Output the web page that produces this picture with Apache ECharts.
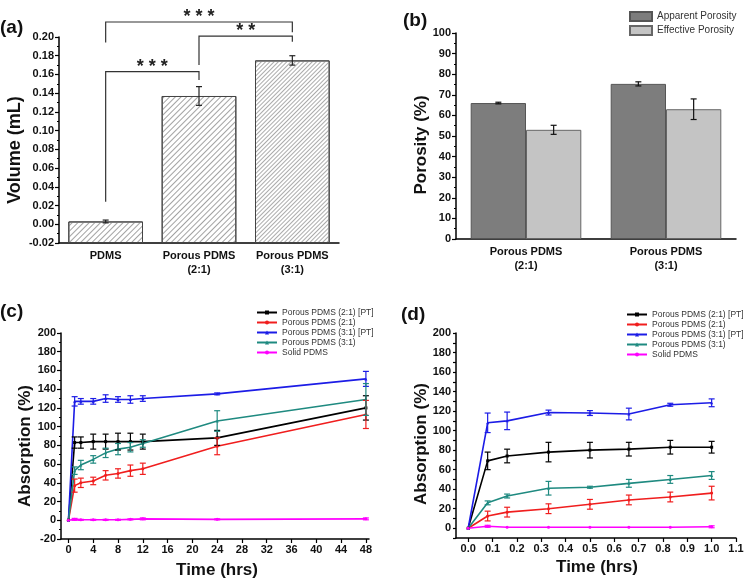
<!DOCTYPE html>
<html><head><meta charset="utf-8">
<script src="https://cdn.jsdelivr.net/npm/echarts@6/dist/echarts.min.js"></script>
<style>html,body{margin:0;padding:0;background:#fff}#c{width:746px;height:582px}</style>
</head><body><div id="c"></div>
<script>
const FONT = 'Liberation Sans, Arial, sans-serif';

// ---------- (a) ----------
const catsA = ['PDMS', 'Porous PDMS\n(2:1)', 'Porous PDMS\n(3:1)'];
const volumeA = [0.003, 0.137, 0.175];
const volumeErrA = [0.0015, 0.010, 0.005];
const sigFrom = [0, 1, 0];
const sigTo = [1, 2, 2];
const sigTop = [0.163, 0.201, 0.216];
const sigFromBase = [0.024, 0.170, 0.194];
const sigToBase = [0.154, 0.195, 0.205];
const sigText = ['* * *', '* *', '* * *'];

// ---------- (b) ----------
const catsB = ['Porous PDMS\n(2:1)', 'Porous PDMS\n(3:1)'];
const apparentB = [66, 75.3];
const apparentErrB = [0.4, 1.0];
const effectiveB = [53, 63];
const effectiveErrB = [2.2, 5.0];
const legendB = ['Apparent Porosity', 'Effective Porosity'];

// ---------- (c) & (d) ----------
const seriesNames = ['Porous PDMS (2:1) [PT]', 'Porous PDMS (2:1)', 'Porous PDMS (3:1) [PT]', 'Porous PDMS (3:1)', 'Solid PDMS'];
const seriesColors = ['#000000', '#f01e1e', '#1c1ce6', '#1f8a80', '#ff00ff'];
const seriesSymbols = ['rect', 'circle', 'triangle', 'triangle', 'circle'];

const timeC = [0, 1, 2, 4, 6, 8, 10, 12, 24, 48];
const c21pt = [0, 83, 83, 84, 84, 84, 84, 84, 88, 120];
const c21ptErr = [0, 6, 6, 8, 8, 9, 9, 8, 8, 13];
const c21 = [0, 37, 40, 42, 48, 50, 53, 55, 79, 113];
const c21Err = [0, 7, 5, 4, 5, 5, 6, 6, 9, 15];
const c31pt = [0, 127, 127, 127, 130, 129, 129, 130, 135, 151];
const c31ptErr = [0, 5, 3, 3, 4, 3, 4, 3, 1, 8];
const c31 = [0, 53, 59, 65, 72, 76, 78, 82, 106, 129];
const c31Err = [0, 4, 5, 4, 5, 6, 5, 4, 11, 17];
const cSolid = [0, 1, 0.5, 0.5, 0.5, 0.5, 1, 1.5, 1, 1.5];
const cSolidErr = [0, 1, 0.5, 0.5, 0.5, 0.5, 0.5, 1, 0.5, 1];
const ticksXC = [0, 4, 8, 12, 16, 20, 24, 28, 32, 36, 40, 44, 48];

const timeD = [0, 0.08, 0.16, 0.33, 0.5, 0.66, 0.83, 1.0];
const d21pt = [0, 69, 74, 78, 80, 81, 83, 83];
const d21ptErr = [0, 9, 7, 10, 8, 7, 7, 6];
const d21 = [0, 12.5, 16.5, 20, 24.5, 29, 32, 36];
const d21Err = [0, 5, 5, 5, 5, 5, 5, 7];
const d31pt = [0, 108, 110, 118.5, 118, 117, 126.5, 128.5];
const d31ptErr = [0, 10, 9, 2.5, 2.5, 6, 1.5, 4];
const d31 = [0, 26, 33, 41, 42, 46, 50, 54];
const d31Err = [0, 2, 2, 7, 1, 4, 4, 4];
const dSolid = [0, 2, 1, 1, 1, 1, 1, 1.5];
const dSolidErr = [0, 1, 0, 0, 0, 0, 0, 1];
const ticksXD = [0, 0.1, 0.2, 0.3, 0.4, 0.5, 0.6, 0.7, 0.8, 0.9, 1.0, 1.1];
const ticksYD = [0, 20, 40, 60, 80, 100, 120, 140, 160, 180, 200];

const valuesC = [c21pt, c21, c31pt, c31, cSolid];
const errsC = [c21ptErr, c21Err, c31ptErr, c31Err, cSolidErr];
const valuesD = [d21pt, d21, d31pt, d31, dSolid];
const errsD = [d21ptErr, d21Err, d31ptErr, d31Err, dSolidErr];

// ---------- helpers ----------
const axisLineStyle = { color: '#000', width: 1.5 };
const tickLabel = { fontSize: 11, fontWeight: 'bold', color: '#111', fontFamily: FONT };

function errData(xs, v, e) {
  const out = [];
  xs.forEach((x, i) => { if (e[i] > 0) out.push([x, v[i] - e[i], v[i] + e[i]]); });
  return out;
}
function errSeries(xi, yi, data, color, offsetFrac, capHalf, lw) {
  return {
    type: 'custom', xAxisIndex: xi, yAxisIndex: yi, data: data, z: 5, silent: true, clip: false,
    itemStyle: { color: color },
    renderItem: function (params, api) {
      const x = api.value(0), lo = api.value(1), hi = api.value(2);
      const t = api.coord([x, hi]), b = api.coord([x, lo]);
      const dx = offsetFrac ? api.size([1, 0])[0] * offsetFrac : 0;
      const cx = t[0] + dx;
      const st = { stroke: color, lineWidth: lw };
      return { type: 'group', children: [
        { type: 'line', shape: { x1: cx, y1: t[1], x2: cx, y2: b[1] }, style: st },
        { type: 'line', shape: { x1: cx - capHalf, y1: t[1], x2: cx + capHalf, y2: t[1] }, style: st },
        { type: 'line', shape: { x1: cx - capHalf, y1: b[1], x2: cx + capHalf, y2: b[1] }, style: st }
      ] };
    }
  };
}
function lineSeries(xi, yi, xs, vals, k) {
  return {
    type: 'line', name: seriesNames[k], xAxisIndex: xi, yAxisIndex: yi,
    data: xs.map((x, i) => [x, vals[i]]),
    symbol: seriesSymbols[k], symbolSize: 3, showSymbol: true,
    lineStyle: { color: seriesColors[k], width: 1.6 },
    itemStyle: { color: seriesColors[k] },
    z: 4, animation: false
  };
}

const hatch1 = { symbol: 'rect', symbolSize: 1, dashArrayX: [1, 0], dashArrayY: [1, 3], rotation: -Math.PI / 4, color: '#a2a2a2' };
const hatch2 = { symbol: 'rect', symbolSize: 1, dashArrayX: [1, 0], dashArrayY: [1, 2], rotation: -Math.PI / 4, color: '#ababab' };
const hatches = [hatch1, hatch1, hatch2];

const series = [];
// (a) bars
series.push({
  type: 'bar', xAxisIndex: 0, yAxisIndex: 0, barCategoryGap: '20%',
  data: volumeA.map((v, i) => ({ value: v, itemStyle: { color: '#fff', borderColor: '#444', borderWidth: 1, decal: hatches[i] } })),
  animation: false
});
series.push(errSeries(0, 0, errData([0, 1, 2], volumeA, volumeErrA), '#222', 0, 3, 1.2));
// significance brackets
series.push({
  type: 'custom', xAxisIndex: 0, yAxisIndex: 0, clip: false, silent: true, z: 6,
  data: sigFrom.map((f, i) => [f, sigTop[i], sigTo[i], sigFromBase[i], sigToBase[i], i]),
  renderItem: function (params, api) {
    const f = api.value(0), top = api.value(1), to = api.value(2), fb = api.value(3), tb = api.value(4), idx = api.value(5);
    const p0 = api.coord([f, fb]), p1 = api.coord([f, top]), p2 = api.coord([to, top]), p3 = api.coord([to, tb]);
    return { type: 'group', children: [
      { type: 'polyline', shape: { points: [p0, p1, p2, p3] }, style: { stroke: '#333', lineWidth: 1.2, fill: null } },
      { type: 'text', x: (p1[0] + p2[0]) / 2, y: p1[1] - 5,
        style: { text: sigText[idx], fontSize: 18, fontWeight: 'bold', fontFamily: FONT, fill: '#222', align: 'center', verticalAlign: 'middle', textAlign: 'center', textVerticalAlign: 'middle' } }
    ] };
  }
});
// (b) bars
series.push({
  type: 'bar', name: legendB[0], xAxisIndex: 1, yAxisIndex: 1, barCategoryGap: '21%', barGap: '0%',
  data: apparentB, itemStyle: { color: '#7d7d7d', borderColor: '#555', borderWidth: 1 }, animation: false
});
series.push({
  type: 'bar', name: legendB[1], xAxisIndex: 1, yAxisIndex: 1, barCategoryGap: '21%', barGap: '0%',
  data: effectiveB, itemStyle: { color: '#c4c4c4', borderColor: '#666', borderWidth: 1 }, animation: false
});
series.push(errSeries(1, 1, errData([0, 1], apparentB, apparentErrB), '#111', -0.1975, 3, 1.2));
series.push(errSeries(1, 1, errData([0, 1], effectiveB, effectiveErrB), '#111', 0.1975, 3, 1.2));
// (c) & (d)
for (let k = 0; k < 5; k++) {
  series.push(lineSeries(2, 2, timeC, valuesC[k], k));
  series.push(errSeries(2, 2, errData(timeC, valuesC[k], errsC[k]), seriesColors[k], 0, 3, 1.2));
  series.push(lineSeries(3, 3, timeD, valuesD[k], k));
  series.push(errSeries(3, 3, errData(timeD, valuesD[k], errsD[k]), seriesColors[k], 0, 3, 1.2));
}

function catX(grid, data) {
  return { type: 'category', gridIndex: grid, data: data,
    axisLine: { onZero: false, lineStyle: axisLineStyle },
    axisTick: { alignWithLabel: true, length: 4, lineStyle: { color: '#000', width: 1.2 } },
    axisLabel: Object.assign({ interval: 0, lineHeight: 14, margin: 6 }, tickLabel),
    splitLine: { show: false } };
}
function valY(grid, min, max, interval, fmt) {
  return { type: 'value', gridIndex: grid, min: min, max: max, interval: interval, position: 'left',
    axisLine: { show: true, onZero: false, lineStyle: axisLineStyle },
    axisTick: { show: true, length: 4, lineStyle: { color: '#000', width: 1.2 } },
    minorTick: { show: true, splitNumber: 2, length: 2, lineStyle: { color: '#000', width: 1 } },
    axisLabel: Object.assign({ margin: 5, formatter: fmt }, tickLabel),
    splitLine: { show: false }, minorSplitLine: { show: false } };
}

const yA = valY(0, -0.02, 0.2, 0.02, v => v.toFixed(2));
yA.startValue = -0.02;

const legendText = { fontSize: 8.5, lineHeight: 9, color: '#333', fontFamily: FONT };

const option = {
  animation: false,
  backgroundColor: '#fff',
  textStyle: { fontFamily: FONT },
  grid: [
    { left: 59, top: 37, width: 280, height: 206, outerBoundsMode: 'none', containLabel: false },
    { left: 456, top: 33, width: 280, height: 206, outerBoundsMode: 'none', containLabel: false },
    { left: 61, top: 333, width: 308, height: 206, outerBoundsMode: 'none', containLabel: false },
    { left: 456, top: 333, width: 280, height: 205, outerBoundsMode: 'none', containLabel: false }
  ],
  xAxis: [
    catX(0, catsA),
    catX(1, catsB),
    { type: 'value', gridIndex: 2, min: -1.2, max: 48.5,
      axisLine: { onZero: false, lineStyle: axisLineStyle },
      axisTick: { show: true, length: 4, customValues: ticksXC, lineStyle: { color: '#000', width: 1.2 } },
      axisLabel: Object.assign({ customValues: ticksXC, margin: 5 }, tickLabel),
      splitLine: { show: false } },
    { type: 'value', gridIndex: 3, min: -0.05, max: 1.1,
      axisLine: { onZero: false, lineStyle: axisLineStyle },
      axisTick: { show: true, length: 4, customValues: ticksXD, lineStyle: { color: '#000', width: 1.2 } },
      axisLabel: Object.assign({ customValues: ticksXD, margin: 5, formatter: v => v.toFixed(1) }, tickLabel),
      splitLine: { show: false } }
  ],
  yAxis: [
    yA,
    valY(1, 0, 100, 10, v => String(v)),
    valY(2, -20, 200, 20, v => String(v)),
    { type: 'value', gridIndex: 3, min: -10, max: 200, interval: 10, position: 'left',
      axisLine: { show: true, onZero: false, lineStyle: axisLineStyle },
      axisTick: { show: true, length: 3, lineStyle: { color: '#000', width: 1.2 } },
      axisLabel: Object.assign({ customValues: ticksYD, margin: 5 }, tickLabel),
      splitLine: { show: false } }
  ],
  legend: [
    { data: legendB, left: 629, top: 11, padding: 0, orient: 'vertical', icon: 'rect', itemWidth: 22, itemHeight: 9, itemGap: 3,
      textStyle: { fontSize: 10, color: '#333', fontFamily: FONT }, selectedMode: false },
    { data: seriesNames, left: 256, top: 308, padding: 0, orient: 'vertical', itemWidth: 20, itemHeight: 5, itemGap: 1,
      textStyle: legendText, selectedMode: false },
    { data: seriesNames, left: 626, top: 310, padding: 0, orient: 'vertical', itemWidth: 20, itemHeight: 5, itemGap: 1,
      textStyle: legendText, selectedMode: false }
  ],
  graphic: [
    ['(a)', 0, 28, 0, 19, 'left'],
    ['(b)', 403, 21, 0, 19, 'left'],
    ['(c)', 0, 312, 0, 19, 'left'],
    ['(d)', 401, 315, 0, 19, 'left'],
    ['Volume (mL)', 15, 150, Math.PI / 2, 18, 'center'],
    ['Porosity (%)', 421, 145, Math.PI / 2, 17, 'center'],
    ['Absorption (%)', 25, 446, Math.PI / 2, 17, 'center'],
    ['Absorption (%)', 421, 444, Math.PI / 2, 17, 'center'],
    ['Time (hrs)', 217, 570, 0, 17, 'center'],
    ['Time (hrs)', 597, 567, 0, 17, 'center']
  ].map(g => ({
    type: 'text', x: g[1], y: g[2], rotation: g[3], silent: true,
    style: { text: g[0], fontSize: g[4], fontWeight: 'bold', fontFamily: FONT, fill: '#111',
      align: g[5], verticalAlign: 'middle', textAlign: g[5], textVerticalAlign: 'middle' }
  })),
  series: series
};

const chart = echarts.init(document.getElementById('c'), null, { renderer: 'canvas' });
chart.setOption(option);
</script>
</body></html>
